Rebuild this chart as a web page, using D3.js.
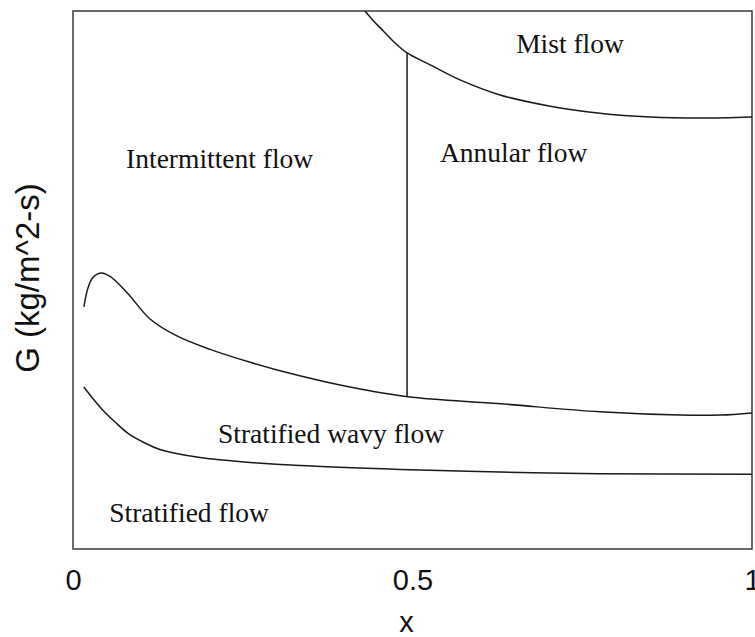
<!DOCTYPE html>
<html>
<head>
<meta charset="utf-8">
<script src="https://cdn.jsdelivr.net/npm/d3@7/dist/d3.min.js"></script>
<style>
  html, body { margin: 0; padding: 0; background: #fff; }
  svg { display: block; }
</style>
</head>
<body>
<svg id="chart" width="755" height="637"></svg>
<script>
// Flow pattern map: mass flux G against vapour quality x.
// Boundary curves, given as [x, G] pairs (G in arbitrary map units, 0–1000).
const wavyIntermittentBoundary = [
  [0.016, 450], [0.022, 485], [0.029, 504], [0.041, 513], [0.054, 507],
  [0.080, 476], [0.113, 428], [0.153, 396], [0.202, 371], [0.261, 347],
  [0.334, 322], [0.408, 301], [0.493, 283], [0.629, 270], [0.776, 255],
  [0.894, 249], [0.953, 249], [1.000, 253]
];
const stratifiedWavyBoundary = [
  [0.016, 301], [0.031, 277], [0.044, 258], [0.062, 236], [0.080, 216],
  [0.106, 197], [0.128, 185], [0.187, 170], [0.261, 161], [0.334, 155],
  [0.482, 148], [0.629, 143], [0.776, 140], [1.000, 139]
];
const mistBoundary = [
  [0.430, 1000], [0.445, 978], [0.457, 963], [0.474, 941], [0.492, 922],
  [0.526, 900], [0.570, 872], [0.629, 844], [0.703, 823], [0.776, 810],
  [0.850, 803], [0.923, 801], [1.000, 803]
];
// Intermittent / annular transition quality
const annularTransitionX = 0.492;

const xTicks = [0, 0.5, 1];
const xTickLabels = ["0", "0.5", "1"];

const regionLabels = [
  { text: "Mist flow",            x: 0.732, g: 922 },
  { text: "Intermittent flow",    x: 0.216, g: 708 },
  { text: "Annular flow",         x: 0.649, g: 719 },
  { text: "Stratified wavy flow", x: 0.380, g: 197 },
  { text: "Stratified flow",      x: 0.171, g: 50 }
];

const xTitle = "x";
const yTitle = "G (kg/m^2-s)";

// Layout
const frame = { left: 73, right: 752, top: 11, bottom: 549 };
const svg = d3.select("#chart");

const x = d3.scaleLinear().domain([0, 1]).range([frame.left, frame.right]);
const y = d3.scaleLinear().domain([0, 1000]).range([frame.bottom, frame.top]);

// Linear lookup of G on a boundary at a given x
function gAt(curve, xv) {
  for (let i = 1; i < curve.length; i++) {
    const [x0, g0] = curve[i - 1], [x1, g1] = curve[i];
    if (xv >= x0 && xv <= x1) return g0 + (g1 - g0) * (xv - x0) / (x1 - x0);
  }
  return xv < curve[0][0] ? curve[0][1] : curve[curve.length - 1][1];
}

// Plot frame
svg.append("rect")
  .attr("x", x(0)).attr("y", y(1000))
  .attr("width", x(1) - x(0)).attr("height", y(0) - y(1000))
  .attr("fill", "none")
  .attr("stroke", "#454545")
  .attr("stroke-width", 1.6);

// Boundary curves
const line = d3.line()
  .x(d => x(d[0]))
  .y(d => y(d[1]))
  .curve(d3.curveCatmullRom.alpha(0.5));

[wavyIntermittentBoundary, stratifiedWavyBoundary, mistBoundary].forEach(c => {
  svg.append("path")
    .datum(c)
    .attr("d", line)
    .attr("fill", "none")
    .attr("stroke", "#1a1a1a")
    .attr("stroke-width", 1.5);
});

// Vertical intermittent/annular transition between the two boundaries
svg.append("line")
  .attr("x1", x(annularTransitionX)).attr("x2", x(annularTransitionX))
  .attr("y1", y(gAt(mistBoundary, annularTransitionX)))
  .attr("y2", y(gAt(wavyIntermittentBoundary, annularTransitionX)))
  .attr("stroke", "#1a1a1a")
  .attr("stroke-width", 1.5);

// Region names
svg.append("g")
  .selectAll("text")
  .data(regionLabels)
  .join("text")
  .attr("x", d => x(d.x))
  .attr("y", d => y(d.g))
  .attr("text-anchor", "middle")
  .attr("font-family", "'Liberation Serif', 'Times New Roman', serif")
  .attr("font-size", 27.5)
  .attr("fill", "#111")
  .text(d => d.text);

// X axis tick labels (no tick marks drawn)
const xAxis = d3.axisBottom(x)
  .tickValues(xTicks)
  .tickFormat((d, i) => xTickLabels[i])
  .tickSize(0)
  .tickPadding(20);

const gx = svg.append("g")
  .attr("transform", `translate(0,${frame.bottom})`)
  .call(xAxis);
gx.select(".domain").remove();
gx.selectAll("text")
  .attr("font-family", "'Liberation Sans', Arial, sans-serif")
  .attr("font-size", 29)
  .attr("fill", "#111");

// Axis titles
svg.append("text")
  .attr("x", x(0.5) - 6)
  .attr("y", 632)
  .attr("text-anchor", "middle")
  .attr("font-family", "'Liberation Sans', Arial, sans-serif")
  .attr("font-size", 29)
  .attr("fill", "#111")
  .text(xTitle);

svg.append("text")
  .attr("transform", `translate(39,${(frame.top + frame.bottom) / 2 - 2}) rotate(-90)`)
  .attr("text-anchor", "middle")
  .attr("font-family", "'Liberation Sans', Arial, sans-serif")
  .attr("font-size", 33)
  .attr("fill", "#111")
  .text(yTitle);
</script>
</body>
</html>
